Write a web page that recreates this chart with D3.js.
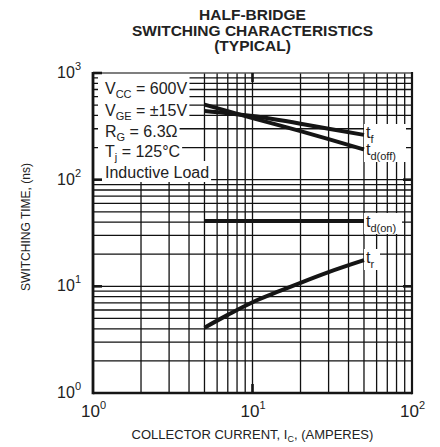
<!DOCTYPE html>
<html>
<head>
<meta charset="utf-8">
<script src="https://cdn.jsdelivr.net/npm/d3@7"></script>
<style>
  body { margin: 0; background: #fff; }
  text { font-family: "Liberation Sans", Arial, sans-serif; fill: #222; }
</style>
</head>
<body>
<div id="chart"></div>
<script>
// tick values
const xTicks = [1, 10, 100];
const yTicks = [1, 10, 100, 1000];

// curves (current in A, time in ns)
const tfCurrent = [5, 7, 10, 20, 30, 50];
const tfTime = [440, 420, 395, 335, 300, 263];
const tdOffCurrent = [5, 10, 20, 30, 50];
const tdOffTime = [505, 378, 285, 240, 192];
const tdOnCurrent = [5, 50];
const tdOnTime = [41, 41];
const trCurrent = [5, 7, 10, 15, 20, 30, 50];
const trTime = [4.1, 5.4, 7.1, 9.1, 10.8, 13.6, 17.6];

const legendLines = [
  ["V", "CC", " = 600V"],
  ["V", "GE", " = ±15V"],
  ["R", "G", " = 6.3Ω"],
  ["T", "j", " = 125°C"],
  ["Inductive Load", "", ""]
];

const w = 440, h = 447;
const pLeft = 93, pRight = 412, pTop = 73, pBottom = 393;

const svg = d3.select("#chart").append("svg")
  .attr("width", w).attr("height", h);

const x = d3.scaleLog().domain([1, 100]).range([pLeft, pRight]);
const y = d3.scaleLog().domain([1, 1000]).range([pBottom, pTop]);

// grid
const grid = svg.append("g").attr("stroke", "#111").attr("stroke-width", 1.3);
let xGrid = [], yGrid = [];
[1, 10].forEach(d => { for (let k = 2; k <= 9; k++) xGrid.push(k * d); });
xGrid.push(10);
[1, 10, 100].forEach(d => { for (let k = 2; k <= 9; k++) yGrid.push(k * d); });
yGrid.push(10, 100);

grid.selectAll("line.v").data(xGrid).enter().append("line")
  .attr("x1", d => x(d)).attr("x2", d => x(d))
  .attr("y1", pBottom)
  .attr("y2", d => d < 5 ? y(100) : pTop);
grid.selectAll("line.h").data(yGrid).enter().append("line")
  .attr("x1", pLeft).attr("x2", pRight)
  .attr("y1", d => y(d)).attr("y2", d => y(d));

// legend text with white knockout behind each row
const legend = svg.append("g");
const baselines = [94, 116, 137, 157, 178];
const rowEdges = [73, 98, 120, 141, 161, 182];
legendLines.forEach((parts, i) => {
  const t = legend.append("text")
    .attr("x", 105).attr("y", baselines[i])
    .attr("font-size", 16);
  t.append("tspan").text(parts[0]);
  if (parts[1]) {
    t.append("tspan").attr("font-size", 11).attr("dy", 4).text(parts[1]);
    t.append("tspan").attr("dy", -4).text(parts[2]);
  }
  const b = t.node().getBBox();
  legend.insert("rect", "text")
    .attr("x", 98).attr("y", rowEdges[i])
    .attr("width", b.x + b.width + 2 - 98)
    .attr("height", rowEdges[i + 1] - rowEdges[i])
    .attr("fill", "#fff");
});

// curve labels
const labels = [
  { main: "t", sub: "f", x: 366, y: 138, x2: 406 },
  { main: "t", sub: "d(off)", x: 366, y: 155, x2: 406 },
  { main: "t", sub: "d(on)", x: 366, y: 227, x2: 402 },
  { main: "t", sub: "r", x: 366, y: 263, x2: 380 }
];
const lab = svg.append("g");
labels.forEach(l => {
  const t = lab.append("text").attr("x", l.x).attr("y", l.y).attr("font-size", 16);
  t.append("tspan").text(l.main);
  t.append("tspan").attr("font-size", 11).attr("dy", 5).text(l.sub);
  const b = t.node().getBBox();
  lab.insert("rect", "text")
    .attr("x", b.x - 2).attr("y", b.y)
    .attr("width", l.x2 - b.x + 2).attr("height", b.height)
    .attr("fill", "#fff");
});

// curves
const line = d3.line().x(d => x(d[0])).y(d => y(d[1])).curve(d3.curveMonotoneX);
const curves = [
  d3.zip(tfCurrent, tfTime),
  d3.zip(tdOffCurrent, tdOffTime),
  d3.zip(tdOnCurrent, tdOnTime),
  d3.zip(trCurrent, trTime)
];
svg.append("g").selectAll("path").data(curves).enter().append("path")
  .attr("d", line)
  .attr("fill", "none")
  .attr("stroke", "#151515")
  .attr("stroke-width", 4);

// frame
const frame = svg.append("g").attr("stroke", "#151515");
frame.append("line").attr("x1", pLeft).attr("x2", pRight).attr("y1", pTop).attr("y2", pTop).attr("stroke-width", 1.6).attr("stroke", "#555");
frame.append("line").attr("x1", pLeft).attr("x2", pRight).attr("y1", pBottom).attr("y2", pBottom).attr("stroke-width", 2.6);
frame.append("line").attr("x1", pLeft).attr("x2", pLeft).attr("y1", pTop - 1).attr("y2", pBottom + 1.3).attr("stroke-width", 2.8);
frame.append("line").attr("x1", pRight).attr("x2", pRight).attr("y1", pTop - 1).attr("y2", pBottom + 1.3).attr("stroke-width", 2.2);

// decade ticks pointing inward
const tk = 9;
[1000, 100, 10].forEach(v => {
  frame.append("line").attr("x1", pLeft).attr("x2", pLeft + tk).attr("y1", y(v)).attr("y2", y(v)).attr("stroke-width", 2.6);
});
[100, 10].forEach(v => {
  frame.append("line").attr("x1", pRight - tk).attr("x2", pRight).attr("y1", y(v)).attr("y2", y(v)).attr("stroke-width", 2.6);
});
[10].forEach(v => {
  frame.append("line").attr("x1", x(v)).attr("x2", x(v)).attr("y1", pBottom - tk).attr("y2", pBottom).attr("stroke-width", 2.6);
  frame.append("line").attr("x1", x(v)).attr("x2", x(v)).attr("y1", pTop).attr("y2", pTop + tk).attr("stroke-width", 2.6);
});

// tick labels
const exp = v => Math.round(Math.log10(v));
svg.append("g").selectAll("text").data(xTicks).enter().append("text")
  .attr("x", d => x(d) - 12).attr("y", 417)
  .attr("font-size", 17)
  .each(function (d) {
    const t = d3.select(this);
    t.append("tspan").text("10");
    t.append("tspan").attr("font-size", 11).attr("dy", -8).text(exp(d));
  });
svg.append("g").selectAll("text").data(yTicks).enter().append("text")
  .attr("x", 81).attr("y", d => y(d) + 5)
  .attr("font-size", 16)
  .attr("text-anchor", "end")
  .each(function (d) {
    const t = d3.select(this);
    t.append("tspan").text("10");
    t.append("tspan").attr("font-size", 11).attr("dy", -8).text(exp(d));
  });

// axis titles
const xt = svg.append("text").attr("x", 252.5).attr("y", 439)
  .attr("text-anchor", "middle").attr("font-size", 13);
xt.append("tspan").text("COLLECTOR CURRENT, I");
xt.append("tspan").attr("font-size", 9).attr("dy", 3).text("C");
xt.append("tspan").attr("dy", -3).text(", (AMPERES)");

svg.append("text")
  .attr("transform", "translate(30,227) rotate(-90)")
  .attr("text-anchor", "middle").attr("font-size", 12)
  .text("SWITCHING TIME, (ns)");

// title
["HALF-BRIDGE", "SWITCHING CHARACTERISTICS", "(TYPICAL)"].forEach((s, i) => {
  svg.append("text").attr("x", 252.5).attr("y", 20 + i * 15.7)
    .attr("text-anchor", "middle").attr("font-size", 15.5)
    .attr("font-weight", "bold").text(s);
});
</script>
</body>
</html>
